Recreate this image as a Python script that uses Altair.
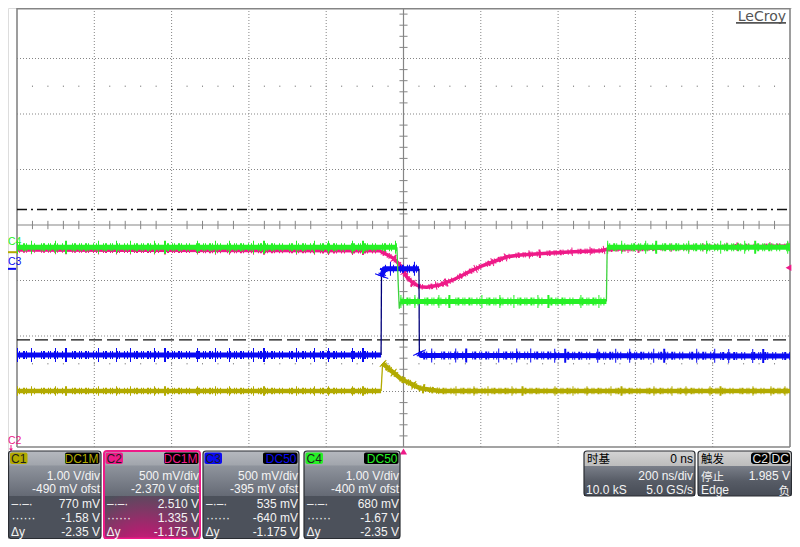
import altair as alt
import pandas as pd

# ------------------------------------------------------------------ data
channels = ["C1", "C2", "C3", "C4"]
volts_per_div = [1.00, 0.500, 0.500, 1.00]
offset_volts = [-0.490, -2.370, -0.395, -0.400]
coupling = ["DC1M", "DC1M", "DC50", "DC50"]
vdiv_text = ["1.00 V/div", "500 mV/div", "500 mV/div", "1.00 V/div"]
ofst_text = ["-490 mV ofst", "-2.370 V ofst", "-395 mV ofst", "-400 mV ofst"]
cur1_text = ["770 mV", "2.510 V", "535 mV", "680 mV"]
cur2_text = ["-1.58 V", "1.335 V", "-640 mV", "-1.67 V"]
dy_text = ["-2.35 V", "-1.175 V", "-1.175 V", "-2.35 V"]

ns_per_div = 200
delay_ns = 0
timebase_title = "时基"
delay_text = "0 ns"
tdiv_text = "200 ns/div"
sample_text = "10.0 kS"
rate_text = "5.0 GS/s"

trigger_title = "触发"
trigger_source = "C2"
trigger_coupling = "DC"
trigger_level = 1.985
trigger_level_text = "1.985 V"
trigger_mode = "停止"
trigger_type = "Edge"
trigger_slope = "负"

cursor_channel = "C4"
cursor_levels = [0.680, -1.67]

# traces: time (ns) and volts; *_piece = kind of the piece that starts at each point
c1_t = [-1000, -58, -54, -48, -35, -22, -9, 4, 17, 30, 43, 69, 94, 1000]
c1_v = [-2.50, -2.50, -2.00, -2.04, -2.12, -2.19, -2.27, -2.32, -2.36, -2.41, -2.45, -2.48, -2.50, -2.50]
c1_piece = ["flat", "edge"] + ["flat"] * 11

c2_t = [-1000, -61, -26, -9, 8, 25, 43, 60, 94, 128, 164, 198, 232, 268, 302, 371, 440, 510, 528, 767, 1000]
c2_v = [2.145, 2.138, 2.07, 2.01, 1.904, 1.845, 1.814, 1.809, 1.83, 1.875, 1.938, 1.994, 2.039,
        2.084, 2.10, 2.115, 2.13, 2.138, 2.151, 2.17, 2.18]
c2_piece = ["flat"] * 20

c3_t = [-1000, -58, -57, -50, 40, 41, 45, 1000]
c3_v = [-0.776, -0.776, -0.07, 0.0, 0.0, -0.75, -0.78, -0.785]
c3_piece = ["flat", "edge", "flat", "flat", "edge", "flat", "flat"]

c4_t = [-1000, -17, -14, -11, -8, 525, 527, 1000]
c4_v = [0.0, 0.0, -0.6, -1.1, -0.98, -0.98, 0.0, 0.0]
c4_piece = ["flat", "edge", "edge", "edge", "flat", "edge", "flat"]

# ------------------------------------------------------------------ styles
TRACE_COLOR = {"C1": "#b2aa00", "C2": "#ee1a88", "C3": "#0a0af2", "C4": "#26f026"}
EDGE_COLOR = {"C1": "#b2aa00", "C2": "#ee1a88", "C3": "#00007a", "C4": "#3cd23c"}
BAND = {"C1": 4.5, "C2": 3.5, "C3": 5, "C4": 5}
SPIKE_A = {"C1": 2, "C2": 2, "C3": 3, "C4": 3}
SPIKE_B = {"C1": 5, "C2": 5, "C3": 9, "C4": 8}
DASH_A = [1, 1, 1, 3, 2, 1, 1, 4, 1, 2, 1, 6, 1, 1, 2, 3]
DASH_B = [1, 13, 1, 23, 1, 9, 2, 31, 1, 17]
GRID = "#858585"
FONT = "Liberation Sans"
CJK = "Noto Sans CJK SC"
PANEL_DY = -7  # read-out boxes are lifted a little so they fit inside the window

# svg sits at page (8, 8); page coordinates are used for screen furniture
X_T = alt.Scale(domain=[-5 * ns_per_div, 5 * ns_per_div], range=[9, 782], nice=False, zero=False)
Y_D = alt.Scale(domain=[-4, 4], range=[439, -5], nice=False, zero=False)
PX = alt.Scale(domain=[8, 792], range=[0, 784], nice=False, zero=False)
PY = alt.Scale(domain=[8, 539], range=[0, 531], nice=False, zero=False)

ONE = pd.DataFrame({"a": [0]})
idx = {c: i for i, c in enumerate(channels)}


def to_div(ch, v):
    i = idx[ch]
    return (v + offset_volts[i]) / volts_per_div[i]


def xt(f="t"):
    return alt.X(f"{f}:Q", scale=X_T, axis=None)


def yd(f="d"):
    return alt.Y(f"{f}:Q", scale=Y_D, axis=None)


layers = []

# ------------------------------------------------------------------ grid
grid_t = [k * ns_per_div for k in (-4, -3, -2, -1, 1, 2, 3, 4)]
grid_d = [-3, -2, -1, 1, 2, 3]
layers.append(alt.Chart(pd.DataFrame({"t": grid_t, "d0": -4, "d1": 4})).mark_rule(
    color=GRID, strokeDash=[1, 2], strokeWidth=1).encode(x=xt(), y=yd("d0"), y2="d1:Q"))
layers.append(alt.Chart(pd.DataFrame({"d": grid_d, "t0": -1000, "t1": 1000})).mark_rule(
    color=GRID, strokeDash=[1, 2], strokeWidth=1).encode(y=yd(), x=xt("t0"), x2="t1:Q"))
layers.append(alt.Chart(pd.DataFrame({"t": [0], "d0": -4, "d1": 4})).mark_rule(
    color=GRID, strokeWidth=1.2).encode(x=xt(), y=yd("d0"), y2="d1:Q"))
layers.append(alt.Chart(pd.DataFrame({"d": [0], "t0": -1000, "t1": 1000})).mark_rule(
    color=GRID, strokeWidth=1.2).encode(y=yd(), x=xt("t0"), x2="t1:Q"))
minor_t = [k * ns_per_div / 5 for k in range(-24, 25) if k % 5 != 0]
minor_d = [k / 5 for k in range(-19, 20) if k % 5 != 0]
layers.append(alt.Chart(pd.DataFrame({"t": minor_t, "d0": -0.075, "d1": 0.075})).mark_rule(
    color=GRID, strokeWidth=1).encode(x=xt(), y=yd("d0"), y2="d1:Q"))
layers.append(alt.Chart(pd.DataFrame({"d": minor_d, "t0": -10.5, "t1": 10.5})).mark_rule(
    color=GRID, strokeWidth=1).encode(y=yd(), x=xt("t0"), x2="t1:Q"))
dots_t = [k * ns_per_div / 5 for k in range(-24, 25)]
dots = pd.DataFrame([{"t": t, "d0": r - 0.012, "d1": r + 0.012} for r in (2.5, -2.5) for t in dots_t])
layers.append(alt.Chart(dots).mark_rule(color=GRID, strokeWidth=1).encode(x=xt(), y=yd("d0"), y2="d1:Q"))
# frame: left, right, bottom from the scales, top line at the top of the window
layers.append(alt.Chart(pd.DataFrame({"t": [-1000, 1000], "d0": -4, "d1": 4})).mark_rule(
    color=GRID, strokeWidth=1.6).encode(x=xt(), y=yd("d0"), y2="d1:Q"))
layers.append(alt.Chart(pd.DataFrame({"d": [-4], "t0": -1000, "t1": 1000})).mark_rule(
    color=GRID, strokeWidth=1.6).encode(y=yd(), x=xt("t0"), x2="t1:Q"))
layers.append(alt.Chart(pd.DataFrame({"t0": [-1000], "t1": [1000]})).mark_rule(
    color=GRID, strokeWidth=1.6).encode(x=xt("t0"), x2="t1:Q", y=alt.value(0.8)))

# ------------------------------------------------------------------ cursors
cd = [to_div(cursor_channel, v) for v in cursor_levels]
layers.append(alt.Chart(pd.DataFrame({"d": [cd[0]], "t0": -1000, "t1": 1000})).mark_rule(
    color="#111111", strokeWidth=1.4, strokeDash=[10, 4, 2, 4]).encode(y=yd(), x=xt("t0"), x2="t1:Q"))
layers.append(alt.Chart(pd.DataFrame({"d": [cd[1]], "t0": -1000, "t1": 1000})).mark_rule(
    color="#111111", strokeWidth=1.4, strokeDash=[13, 5]).encode(y=yd(), x=xt("t0"), x2="t1:Q"))


# ------------------------------------------------------------------ traces
def trace_df(ch, t, v, piece):
    rows, seg, o = [], 0, 0
    for i in range(len(t) - 1):
        if i == 0 or piece[i] != piece[i - 1]:
            seg += 1
            rows.append({"seg": seg, "kind": piece[i], "t": t[i], "d": to_div(ch, v[i]), "o": o})
            o += 1
        rows.append({"seg": seg, "kind": piece[i], "t": t[i + 1], "d": to_div(ch, v[i + 1]), "o": o})
        o += 1
    return pd.DataFrame(rows)


traces = {"C1": (c1_t, c1_v, c1_piece), "C2": (c2_t, c2_v, c2_piece),
          "C3": (c3_t, c3_v, c3_piece), "C4": (c4_t, c4_v, c4_piece)}
for ch in channels:
    df = trace_df(ch, *traces[ch])
    flat = df[df["kind"] == "flat"]
    # noise texture: short spikes across the flat parts of the trace
    for extra, dash in ((SPIKE_B[ch], DASH_B), (SPIKE_A[ch], DASH_A)):
        layers.append(alt.Chart(flat).mark_line(
            strokeCap="butt", strokeJoin="round", color=TRACE_COLOR[ch],
            strokeWidth=BAND[ch] + extra, strokeDash=dash).encode(
            x=xt(), y=yd(), detail="seg:N", order="o:Q"))
    layers.append(alt.Chart(df).mark_line(strokeCap="butt", strokeJoin="round").encode(
        x=xt(), y=yd(), detail="seg:N", order="o:Q",
        color=alt.Color("kind:N", scale=alt.Scale(domain=["flat", "edge"],
                                                  range=[TRACE_COLOR[ch], EDGE_COLOR[ch]]), legend=None),
        strokeWidth=alt.StrokeWidth("kind:N", scale=alt.Scale(domain=["flat", "edge"],
                                                              range=[BAND[ch], 1.3]), legend=None)))


# ------------------------------------------------------------------ helpers for screen furniture
def box(x1, y1, x2, y2, **mk):
    return alt.Chart(ONE).mark_rect(**mk).encode(
        x=alt.value(x1 - 8), x2=alt.value(x2 - 8), y=alt.value(y1 - 8), y2=alt.value(y2 - 8))


def pbox(x1, y1, x2, y2, **mk):
    return box(x1, y1 + PANEL_DY, x2, y2 + PANEL_DY, **mk)


def texts(items, **mk):
    df = pd.DataFrame(items, columns=["label", "px", "py"])
    base = dict(baseline="alphabetic", font=FONT, fontSize=12)
    base.update(mk)
    return alt.Chart(df).mark_text(**base).encode(
        x=alt.X("px:Q", scale=PX, axis=None), y=alt.Y("py:Q", scale=PY, axis=None), text="label:N")


def ptexts(items, **mk):
    return texts([(s, x, y + PANEL_DY) for (s, x, y) in items], **mk)


# trigger markers
tl = to_div(trigger_source, trigger_level)
layers.append(alt.Chart(pd.DataFrame({"d": [tl]})).mark_point(
    shape="triangle-left", filled=True, size=45, opacity=1, color=TRACE_COLOR[trigger_source]).encode(
    x=alt.value(788.5 - 8), y=yd()))
layers.append(alt.Chart(pd.DataFrame({"t": [delay_ns]})).mark_point(
    shape="triangle-up", filled=True, size=50, opacity=1, color=TRACE_COLOR[trigger_source]).encode(
    x=xt(), y=alt.value(451.5 - 8)))

# channel ground markers on the left
layers.append(alt.Chart(pd.DataFrame({"d": [to_div("C1", 0.0)]})).mark_rule(
    color=TRACE_COLOR["C1"], strokeWidth=2).encode(x=alt.value(0), x2=alt.value(9), y=yd()))
layers.append(alt.Chart(pd.DataFrame({"d": [to_div("C3", 0.0)]})).mark_rule(
    color=TRACE_COLOR["C3"], strokeWidth=2).encode(x=alt.value(0), x2=alt.value(8), y=yd()))
layers.append(texts([("C4", 8, 245)], align="left", fontSize=10.5, color=TRACE_COLOR["C4"]))
layers.append(texts([("C3", 8, 265)], align="left", fontSize=10.5, color=TRACE_COLOR["C3"]))
layers.append(texts([("C2", 8, 444)], align="left", fontSize=10.5, color=TRACE_COLOR["C2"]))
layers.append(alt.Chart(ONE).mark_rule(color=TRACE_COLOR["C2"], strokeWidth=1).encode(
    x=alt.value(11 - 8), y=alt.value(445 - 8), y2=alt.value(450 - 8)))
layers.append(alt.Chart(ONE).mark_point(shape="triangle-down", filled=True, size=14, opacity=1,
                                        color=TRACE_COLOR["C2"]).encode(
    x=alt.value(11 - 8), y=alt.value(450 - 8)))

# LeCroy logo
layers.append(texts([("LeCroy", 786, 21)], align="right", font="DejaVu Sans", fontSize=14,
                    color="#555555"))
layers.append(alt.Chart(ONE).mark_rule(color="#555555", strokeWidth=1.8).encode(
    x=alt.value(736 - 8), x2=alt.value(786 - 8), y=alt.value(22.8 - 8)))

# ------------------------------------------------------------------ channel read-out boxes
UP_GRAD = {"gradient": "linear", "x1": 0, "y1": 0, "x2": 0, "y2": 1,
           "stops": [{"offset": 0, "color": "#b6b9bf"}, {"offset": 0.3, "color": "#a2a6ad"},
                     {"offset": 0.34, "color": "#8e939c"}, {"offset": 1, "color": "#656a75"}]}
LOW = "#4c515b"
PINK_GLOW = {"gradient": "radial", "x1": 0.42, "y1": 1.0, "r1": 0, "x2": 0.42, "y2": 1.0, "r2": 0.8,
             "stops": [{"offset": 0, "color": "#ff1a8e"}, {"offset": 0.45, "color": "#b02070"},
                       {"offset": 1, "color": LOW}]}
BOX_L = [8.5, 104, 203, 304]
BOX_R = [101, 200, 299, 400]
white_r, white_l = [], []
for i, ch in enumerate(channels):
    L, R = BOX_L[i], BOX_R[i]
    layers.append(pbox(L, 458, R, 503, fill=UP_GRAD))
    layers.append(pbox(L, 503, R, 545.5, fill=PINK_GLOW if ch == trigger_source else LOW))
    if ch == trigger_source:
        layers.append(pbox(L, 458, R, 545.5, fillOpacity=0, stroke=TRACE_COLOR[ch], strokeWidth=2,
                           cornerRadius=3))
    else:
        layers.append(pbox(L, 458, R, 545.5, fillOpacity=0, stroke="#2a2d33", strokeWidth=1.2,
                           cornerRadius=3))
    layers.append(pbox(L + 1.5, 459.5, L + 19, 471, fill=TRACE_COLOR[ch], cornerRadius=2))
    layers.append(pbox(R - 36, 459.5, R - 1.5, 471, fill="#000000", cornerRadius=2))
    layers.append(ptexts([(ch, L + 2.5, 470)], align="left", color="#1e1e1e"))
    layers.append(ptexts([(coupling[i], R - 2.5, 470)], align="right", color=TRACE_COLOR[ch]))
    white_r += [(vdiv_text[i], R - 1, 487), (ofst_text[i], R - 1, 500), (cur1_text[i], R - 1, 514.5),
                (cur2_text[i], R - 1, 528.5), (dy_text[i], R - 1, 542.5)]
    white_l += [("–·–·", L + 3, 514.5), ("······", L + 3, 528.5), ("Δy", L + 2.5, 542.5)]

# ------------------------------------------------------------------ timebase / trigger boxes
HEAD_GRAD = {"gradient": "linear", "x1": 0, "y1": 0, "x2": 0, "y2": 1,
             "stops": [{"offset": 0, "color": "#d4d4d4"}, {"offset": 1, "color": "#bcbcbc"}]}
ROW_GRAD = {"gradient": "linear", "x1": 0, "y1": 0, "x2": 0, "y2": 1,
            "stops": [{"offset": 0, "color": "#7a7f89"}, {"offset": 0.5, "color": "#575c66"},
                      {"offset": 1, "color": "#474c56"}]}
for (L, R) in [(584, 695), (698, 791.5)]:
    layers.append(pbox(L, 473, R, 503, fill=ROW_GRAD))
    layers.append(pbox(L, 458, R, 473, fill=HEAD_GRAD))
    layers.append(pbox(L, 458, R, 503, fillOpacity=0, stroke="#2a2d33", strokeWidth=1.2, cornerRadius=3))
layers.append(pbox(751, 459.5, 769.5, 471, fill="#000000", cornerRadius=3))
layers.append(pbox(770.5, 459.5, 790, 471, fill="#000000", cornerRadius=3))
layers.append(ptexts([(trigger_source, 760.2, 470), (trigger_coupling, 780.2, 470)], align="center",
                     color="#e6e6e6"))
layers.append(ptexts([(timebase_title, 587, 469.5), (trigger_title, 701, 469.5)], align="left", font=CJK,
                     fontSize=11.5, color="#000000"))
layers.append(ptexts([(delay_text, 693, 470)], align="right", color="#000000"))
layers.append(ptexts([(trigger_mode, 701, 487.5)], align="left", font=CJK, fontSize=11.5, color="#f2f2f2"))
layers.append(ptexts([(trigger_slope, 790, 501.5)], align="right", font=CJK, fontSize=11.5, color="#f2f2f2"))
white_r += [(tdiv_text, 693, 487), (rate_text, 693, 501), (trigger_level_text, 790, 487)]
white_l += [(sample_text, 586, 501), (trigger_type, 701, 501)]

layers.append(ptexts(white_r, align="right", color="#f4f4f4"))
layers.append(ptexts(white_l, align="left", color="#f4f4f4"))

chart = alt.layer(*layers).resolve_scale(
    x="independent", y="independent", color="independent", strokeWidth="independent"
).properties(
    width=784, height=531,
    padding=0,
    autosize=alt.AutoSizeParams(type="none"),
).configure_view(stroke=None).configure(background="white")

chart.save("out.html", embed_options={"renderer": "svg", "actions": False})
